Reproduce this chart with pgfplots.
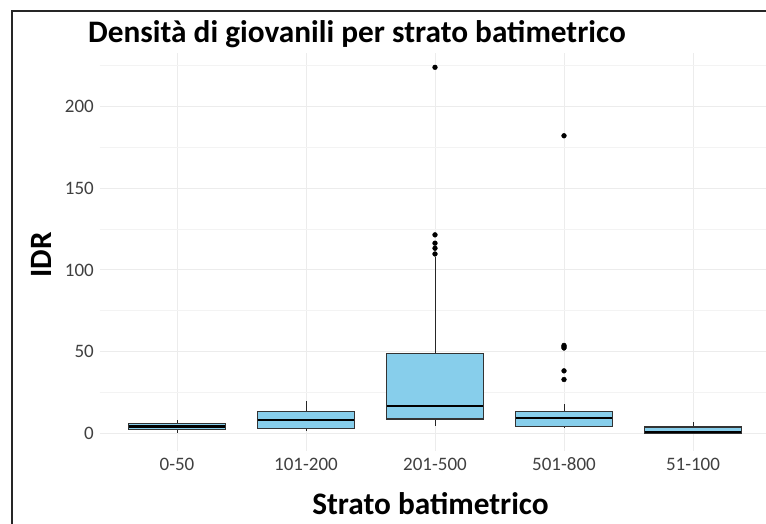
\documentclass[border=0pt]{standalone}
\usepackage{pgfplots}
\pgfplotsset{compat=1.18}
\usepgfplotslibrary{statistics}
\usepackage{fontspec}
\setmainfont{Carlito}
\definecolor{sky}{HTML}{87CEEB}
\definecolor{gridmaj}{HTML}{ECECEC}
\definecolor{gridmin}{HTML}{F3F3F3}
\definecolor{ticktxt}{HTML}{404040}
\begin{document}
\begin{tikzpicture}
\path[use as bounding box] (0bp,0bp) rectangle (766bp,524bp);
\clip (0bp,0bp) rectangle (766bp,524bp);
\fill[white] (0bp,0bp) rectangle (766bp,524bp);
\begin{axis}[
  at={(99.6bp,73.3bp)}, anchor=south west,
  scale only axis, width=670.8bp, height=397.4bp,
  xmin=-0.6, xmax=4.6, ymin=-10.7, ymax=232.7,
  axis line style={draw=none},
  tick style={draw=none},
  major tick length=0pt, minor tick length=0pt,
  xtick={0,1,2,3,4},
  xticklabels={0-50,101-200,201-500,501-800,51-100},
  ytick={0,50,100,150,200},
  minor ytick={25,75,125,175,225},
  xmajorgrids, ymajorgrids, yminorgrids,
  major grid style={draw=gridmaj, line width=1bp},
  minor grid style={draw=gridmin, line width=0.8bp},
  /pgf/number format/assume math mode=true,
  ticklabel style={font=\fontsize{19bp}{20bp}\selectfont, text=ticktxt, inner sep=0pt},
  yticklabel style={anchor=east, xshift=-5.6bp},
  xticklabel style={anchor=base, yshift=-20.3bp},
  boxplot/draw direction=y,
  boxplot/box extend=0.75,
  boxplot/whisker extend=0,
  boxplot/every box/.style={draw=black!80, fill=sky, line width=1.3bp},
  boxplot/every median/.style={draw=black, line width=2.4bp},
  boxplot/every whisker/.style={draw=black!85, line width=0.9bp},
  clip=false,
]
\addplot[black, mark=*, mark size=2.4bp, mark options={fill=black, draw=black},
  boxplot prepared={lower whisker=0.2, lower quartile=2.3, median=4.1, upper quartile=5.9, upper whisker=8.0, draw position=0}]
  coordinates {};
\addplot[black, mark=*, mark size=2.4bp, mark options={fill=black, draw=black},
  boxplot prepared={lower whisker=1.2, lower quartile=2.9, median=8.0, upper quartile=13.1, upper whisker=19.6, draw position=1}]
  coordinates {};
\addplot[black, mark=*, mark size=2.4bp, mark options={fill=black, draw=black},
  boxplot prepared={lower whisker=4.3, lower quartile=8.8, median=16.7, upper quartile=48.9, upper whisker=108.2, draw position=2}]
  coordinates {(2,224.1) (2,121.5) (2,116.4) (2,113.3) (2,109.8)};
\addplot[black, mark=*, mark size=2.4bp, mark options={fill=black, draw=black},
  boxplot prepared={lower whisker=3.5, lower quartile=4.3, median=9.4, upper quartile=13.1, upper whisker=18.2, draw position=3}]
  coordinates {(3,182.2) (3,53.8) (3,53.0) (3,52.2) (3,38.2) (3,32.9)};
\addplot[black, mark=*, mark size=2.4bp, mark options={fill=black, draw=black},
  boxplot prepared={lower whisker=0.2, lower quartile=0.2, median=0.8, upper quartile=3.9, upper whisker=6.6, draw position=4}]
  coordinates {};
\end{axis}
\node[anchor=base west, inner sep=0pt, font=\fontsize{31.3bp}{33bp}\selectfont\bfseries] at (88bp,481.3bp) {Densità di giovanili per strato batimetrico};
\node[anchor=base, inner sep=0pt, font=\fontsize{31.3bp}{33bp}\selectfont\bfseries] at (430.5bp,9.7bp) {Strato batimetrico};
\node[anchor=base, inner sep=0pt, rotate=90, font=\fontsize{31bp}{33bp}\selectfont\bfseries] at (51.7bp,269bp) {IDR};
\draw[line width=2.2bp, black!85] (12bp,-10bp) -- (12bp,513bp) -- (780bp,513bp);
\end{tikzpicture}
\end{document}
